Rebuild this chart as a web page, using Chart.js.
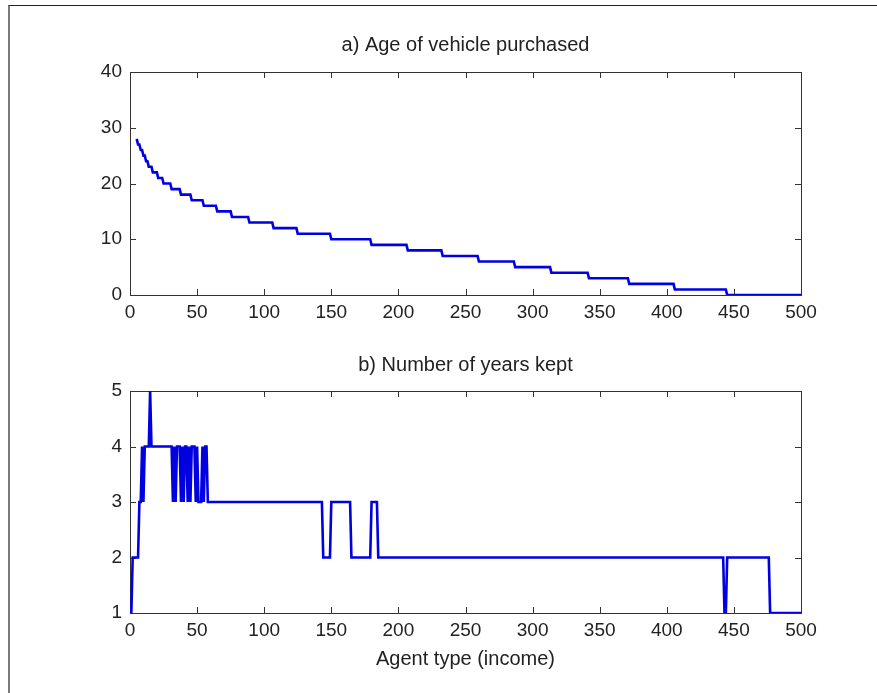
<!DOCTYPE html>
<html>
<head>
<meta charset="utf-8">
<script src="https://cdn.jsdelivr.net/npm/chart.js@4.4.0/dist/chart.umd.min.js"></script>
<style>
    body { margin: 0; background: #fff; }
    #page { position: relative; width: 877px; height: 693px; overflow: hidden; background: #fff; }
    #frame { position: absolute; left: 8px; top: 5px; width: 900px; height: 720px;
             border-top: 1px solid #222; border-left: 2px solid #7a7a7a; }
    canvas { position: absolute; left: 0; }
</style>
</head>
<body>
<div id="page">
    <div id="frame"></div>
    <canvas id="ageChart" width="877" height="340" style="top:0"></canvas>
    <canvas id="keptChart" width="877" height="353" style="top:340px"></canvas>
</div>
<script>
// a) Age of vehicle purchased: value holds from each start agent until the next one
const ageStart = [5, 6, 8, 10, 12, 14, 17, 21, 25, 31, 38, 46, 55, 65, 76, 89, 107, 125, 150, 180, 207, 233, 260, 287, 314, 342, 372, 406, 445];
const ageValue = [28, 27, 26, 25, 24, 23, 22, 21, 20, 19, 18, 17, 16, 15, 14, 13, 12, 11, 10, 9, 8, 7, 6, 5, 4, 3, 2, 1, 0];

// b) Number of years kept
const keptStart = [1, 2, 7, 9, 10, 11, 15, 16, 32, 33, 34, 35, 38, 39, 40, 41, 43, 44, 45, 46, 49, 50, 51, 54, 55, 56, 58, 144, 150, 165, 180, 185, 443, 445, 477];
const keptValue = [1, 2, 3, 4, 3, 4, 5, 4, 3, 4, 3, 4, 3, 4, 3, 4, 3, 4, 3, 4, 3, 4, 3, 4, 3, 4, 3, 2, 3, 2, 3, 2, 1, 2, 1];

const lastAgent = 500;
const xTicks = [0, 50, 100, 150, 200, 250, 300, 350, 400, 450, 500];
const ageTicks = [0, 10, 20, 30, 40];
const keptTicks = [1, 2, 3, 4, 5];

const textColor = '#222';
const lineColor = '#0000e0';
const tickFont = { family: "'Liberation Sans', Arial, sans-serif", size: 19 };
const titleFont = { family: "'Liberation Sans', Arial, sans-serif", size: 20, weight: 'normal' };

// turn runs into points, joined by straight lines like the original plot
function runsToPoints(starts, values, end) {
    const pts = [];
    starts.forEach((s, i) => {
        const e = i < starts.length - 1 ? starts[i + 1] - 1 : end;
        pts.push({ x: s, y: values[i] });
        if (e > s) pts.push({ x: e, y: values[i] });
    });
    return pts;
}

// box round the plot with ticks pointing inwards
const boxTicks = {
    id: 'boxTicks',
    beforeDatasetsDraw(chart) {
        const { ctx, chartArea: a, scales: { x, y } } = chart;
        ctx.save();
        ctx.strokeStyle = '#333';
        ctx.lineWidth = 1;
        ctx.strokeRect(Math.round(a.left) + 0.5, Math.round(a.top) + 0.5, Math.round(a.width), Math.round(a.height));
        ctx.beginPath();
        x.ticks.forEach(t => {
            const px = Math.round(x.getPixelForValue(t.value)) + 0.5;
            ctx.moveTo(px, a.bottom); ctx.lineTo(px, a.bottom - 6);
            ctx.moveTo(px, a.top); ctx.lineTo(px, a.top + 6);
        });
        y.ticks.forEach(t => {
            const py = Math.round(y.getPixelForValue(t.value)) + 0.5;
            ctx.moveTo(a.left, py); ctx.lineTo(a.left + 6, py);
            ctx.moveTo(a.right, py); ctx.lineTo(a.right - 6, py);
        });
        ctx.stroke();
        ctx.restore();
    }
};

function makeChart(id, points, yTicks, opts) {
    return new Chart(document.getElementById(id), {
        type: 'line',
        data: {
            datasets: [{
                data: points,
                borderColor: lineColor,
                borderWidth: 2.6,
                pointRadius: 0,
                tension: 0,
                fill: false
            }]
        },
        options: {
            responsive: false,
            animation: false,
            layout: { padding: { left: 0, right: 76, top: 0, bottom: 0 } },
            plugins: {
                legend: { display: false },
                tooltip: { enabled: false },
                title: {
                    display: true,
                    fullSize: false,
                    text: opts.title,
                    color: textColor,
                    font: titleFont,
                    padding: opts.titlePadding
                }
            },
            scales: {
                x: {
                    type: 'linear',
                    min: 0,
                    max: lastAgent,
                    afterBuildTicks: s => { s.ticks = xTicks.map(v => ({ value: v })); },
                    ticks: { color: textColor, font: tickFont, padding: 6, maxRotation: 0, autoSkip: false },
                    grid: { display: false, drawTicks: false },
                    border: { display: false },
                    title: opts.xTitle ? {
                        display: true,
                        text: opts.xTitle,
                        color: textColor,
                        font: titleFont,
                        padding: { top: 22, bottom: 22 }
                    } : { display: false },
                    afterFit: s => { s.height = opts.xHeight; }
                },
                y: {
                    type: 'linear',
                    min: yTicks[0],
                    max: yTicks[yTicks.length - 1],
                    afterBuildTicks: s => { s.ticks = yTicks.map(v => ({ value: v })); },
                    ticks: { color: textColor, font: tickFont, padding: 8 },
                    grid: { display: false, drawTicks: false },
                    border: { display: false },
                    afterFit: s => { s.width = 130; }
                }
            }
        },
        plugins: [boxTicks]
    });
}

makeChart('ageChart', runsToPoints(ageStart, ageValue, lastAgent), ageTicks, {
    title: 'a) Age of vehicle purchased',
    titlePadding: { top: 33, bottom: 15 },
    xHeight: 45
});

makeChart('keptChart', runsToPoints(keptStart, keptValue, lastAgent), keptTicks, {
    title: 'b) Number of years kept',
    titlePadding: { top: 13, bottom: 14 },
    xTitle: 'Agent type (income)',
    xHeight: 80
});
</script>
</body>
</html>
